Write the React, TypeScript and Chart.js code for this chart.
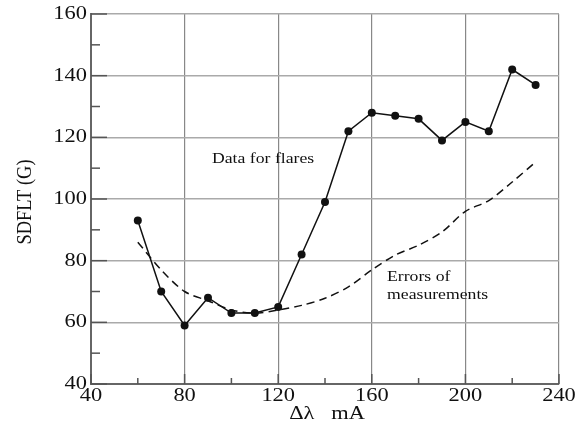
import React, { useEffect, useRef } from "react";
import { Chart, registerables } from "chart.js";

Chart.register(...registerables);

const xValues = [60, 70, 80, 90, 100, 110, 120, 130, 140, 150, 160, 170, 180, 190, 200, 210, 220, 230];
const flareValues = [93, 70, 59, 68, 63, 63, 65, 82, 99, 122, 128, 127, 126, 119, 125, 122, 142, 137];
const errorValues = [86, 77, 70, 67, 64, 63, 64, 65.5, 67.8, 71.5, 77, 81.8, 85, 89.3, 96, 99.5, 105.5, 112];
const xMinorTicks = [60, 100, 140, 180, 220];
const yMinorTicks = [50, 70, 90, 110, 130, 150];
const xMajorTicks = [40, 80, 120, 160, 200, 240];
const yMajorTicks = [40, 60, 80, 100, 120, 140, 160];
const xTitle = "Δλ   mA";
const yTitle = "SDFLT (G)";
const labelFlares = { text: "Data for flares", x: 91.7, y: 113 };
const labelErrors = [
  { text: "Errors of", x: 166.5, y: 74.6 },
  { text: "measurements", x: 166.5, y: 68.8 },
];

const SERIF = "'Liberation Serif', 'DejaVu Serif', serif";
const STRETCH = 1.18;

function drawText(
  ctx: CanvasRenderingContext2D,
  text: string,
  x: number,
  y: number,
  align: CanvasTextAlign,
  size: number,
  rotate = 0
) {
  ctx.save();
  ctx.translate(x, y);
  ctx.scale(STRETCH, 1);
  if (rotate) ctx.rotate(rotate);
  ctx.font = `${size}px ${SERIF}`;
  ctx.textAlign = align;
  ctx.textBaseline = "middle";
  ctx.fillText(text, 0, 0);
  ctx.restore();
}

export default function App() {
  const ref = useRef<HTMLCanvasElement | null>(null);

  useEffect(() => {
    document.body.style.margin = "0";
    const canvas = ref.current;
    if (!canvas) return;

    const decorPlugin = {
      id: "decor",
      afterDraw(chart: any) {
        const ctx = chart.ctx;
        const xs = chart.scales.x;
        const ys = chart.scales.y;
        const area = chart.chartArea;
        ctx.save();
        ctx.strokeStyle = "#555";
        ctx.lineWidth = 1.5;
        xMinorTicks.forEach((v) => {
          const px = xs.getPixelForValue(v);
          ctx.beginPath();
          ctx.moveTo(px, area.bottom);
          ctx.lineTo(px, area.bottom - 6);
          ctx.stroke();
        });
        yMinorTicks.forEach((v) => {
          const py = ys.getPixelForValue(v);
          ctx.beginPath();
          ctx.moveTo(area.left, py);
          ctx.lineTo(area.left + 9, py);
          ctx.stroke();
        });
        yMajorTicks.forEach((v) => {
          const py = ys.getPixelForValue(v);
          ctx.beginPath();
          ctx.moveTo(area.left, py);
          ctx.lineTo(area.left + 16, py);
          ctx.stroke();
        });
        xMajorTicks.forEach((v) => {
          const px = xs.getPixelForValue(v);
          ctx.beginPath();
          ctx.moveTo(px, area.bottom);
          ctx.lineTo(px, area.bottom - 10);
          ctx.stroke();
        });
        ctx.fillStyle = "#111";
        yMajorTicks.forEach((v) => {
          drawText(ctx, String(v), area.left - 4, ys.getPixelForValue(v), "right", 19);
        });
        xMajorTicks.forEach((v) => {
          drawText(ctx, String(v), xs.getPixelForValue(v), area.bottom + 12, "center", 19);
        });
        drawText(ctx, xTitle, (area.left + area.right) / 2 + 2, 414, "center", 19);
        drawText(ctx, yTitle, 25, (area.top + area.bottom) / 2 + 3, "center", 18.5, -Math.PI / 2);
        drawText(ctx, labelFlares.text, xs.getPixelForValue(labelFlares.x), ys.getPixelForValue(labelFlares.y), "left", 15);
        labelErrors.forEach((l) => {
          drawText(ctx, l.text, xs.getPixelForValue(l.x), ys.getPixelForValue(l.y), "left", 15);
        });
        ctx.restore();
      },
    };

    const chart = new Chart(canvas, {
      type: "line",
      data: {
        datasets: [
          {
            label: "Data for flares",
            data: xValues.map((x, i) => ({ x, y: flareValues[i] })),
            borderColor: "#111",
            backgroundColor: "#111",
            borderWidth: 1.5,
            pointRadius: 4,
            pointBackgroundColor: "#111",
            pointBorderWidth: 0,
            tension: 0,
          },
          {
            label: "Errors of measurements",
            data: xValues.map((x, i) => ({ x, y: errorValues[i] })),
            borderColor: "#111",
            borderWidth: 1.5,
            borderDash: [8, 5],
            pointRadius: 0,
            tension: 0.3,
          },
        ],
      },
      options: {
        responsive: false,
        animation: false,
        layout: { padding: { top: 14, right: 24, left: 0, bottom: 0 } },
        plugins: {
          legend: { display: false },
          tooltip: { enabled: false },
        },
        scales: {
          x: {
            type: "linear",
            min: 40,
            max: 240,
            afterFit: (s: any) => {
              s.height = 49;
            },
            ticks: { stepSize: 40, display: false },
            grid: { color: "#888", lineWidth: 1.2, drawTicks: false },
            border: { color: "#666", width: 2 },
            title: { display: false },
          },
          y: {
            type: "linear",
            min: 40,
            max: 160,
            afterFit: (s: any) => {
              s.width = 91;
            },
            ticks: { stepSize: 20, display: false },
            grid: { color: "#aaa", lineWidth: 1.5, drawTicks: false },
            border: { color: "#666", width: 2 },
            title: { display: false },
          },
        },
      },
      plugins: [decorPlugin],
    });
    return () => chart.destroy();
  }, []);

  return (
    <div style={{ width: 583, height: 433, background: "#fff" }}>
      <canvas ref={ref} width={583} height={433} style={{ display: "block" }} />
    </div>
  );
}
